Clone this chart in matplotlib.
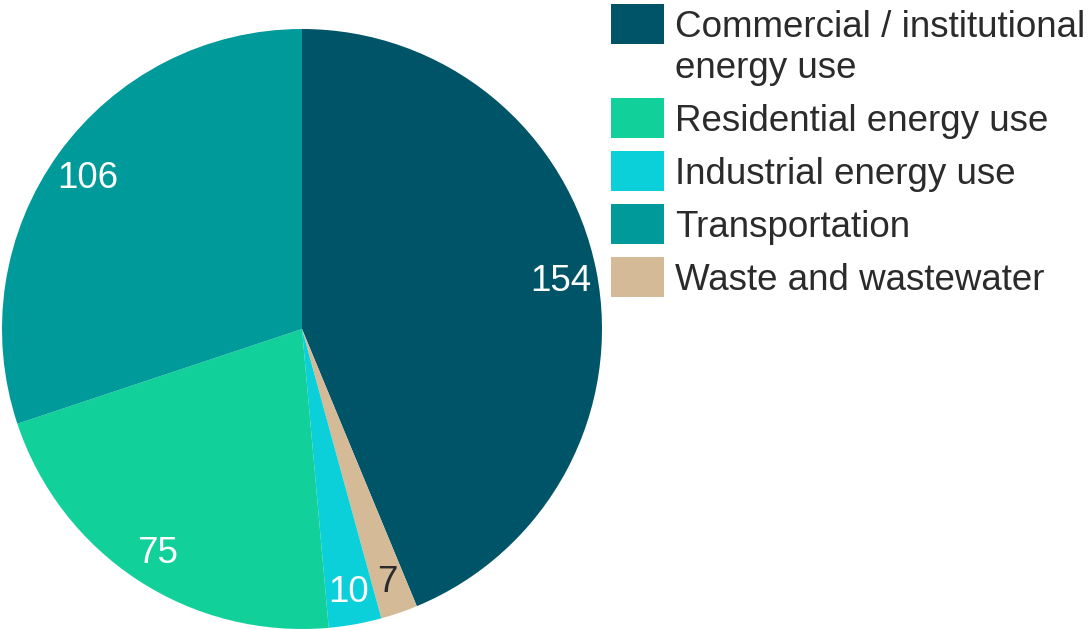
import matplotlib.pyplot as plt
from matplotlib.patches import Rectangle

plt.rcParams['font.family'] = ['Liberation Sans', 'DejaVu Sans']

# pie order (clockwise from top)
sectors = ["Commercial / institutional\nenergy use", "Waste and wastewater",
           "Industrial energy use", "Residential energy use", "Transportation"]
values = [154, 7, 10, 75, 106]
colors = ["#005468", "#D4BA97", "#0BD0DA", "#12D09A", "#009A9A"]
label_colors = ["white", "#2b2b2b", "white", "white", "white"]

# legend order
legend_order = [0, 3, 2, 4, 1]

W, H = 1092, 630
fig = plt.figure(figsize=(W / 100, H / 100), dpi=100)
ax = fig.add_axes([2 / W, 1 / H, 600 / W, 600 / H])

wedges, texts = ax.pie(values, colors=colors, startangle=90, counterclock=False,
                       labels=[str(v) for v in values], labeldistance=0.88,
                       wedgeprops=dict(linewidth=0), radius=1)
for t, c in zip(texts, label_colors):
    t.set_color(c)
    t.set_fontsize(26.5)
    t.set_ha('center')
    t.set_va('center_baseline')
ax.set_xlim(-1, 1)
ax.set_ylim(-1, 1)
ax.set_aspect('equal')
ax.axis('off')

# legend drawn in pixel positions
top = 4
for i in legend_order:
    lines = sectors[i].split("\n")
    fig.add_artist(Rectangle((611 / W, 1 - (top + 40) / H), 53 / W, 40 / H,
                             transform=fig.transFigure, facecolor=colors[i],
                             edgecolor='none'))
    base = top + 20 + 13
    for k, line in enumerate(lines):
        fig.text(675 / W, 1 - (base + 41 * k) / H, line, fontsize=26.5,
                 color="#2b2b2b", ha='left', va='baseline')
    top += 53 + 41 * (len(lines) - 1)

fig.savefig("out.png", dpi=100)
